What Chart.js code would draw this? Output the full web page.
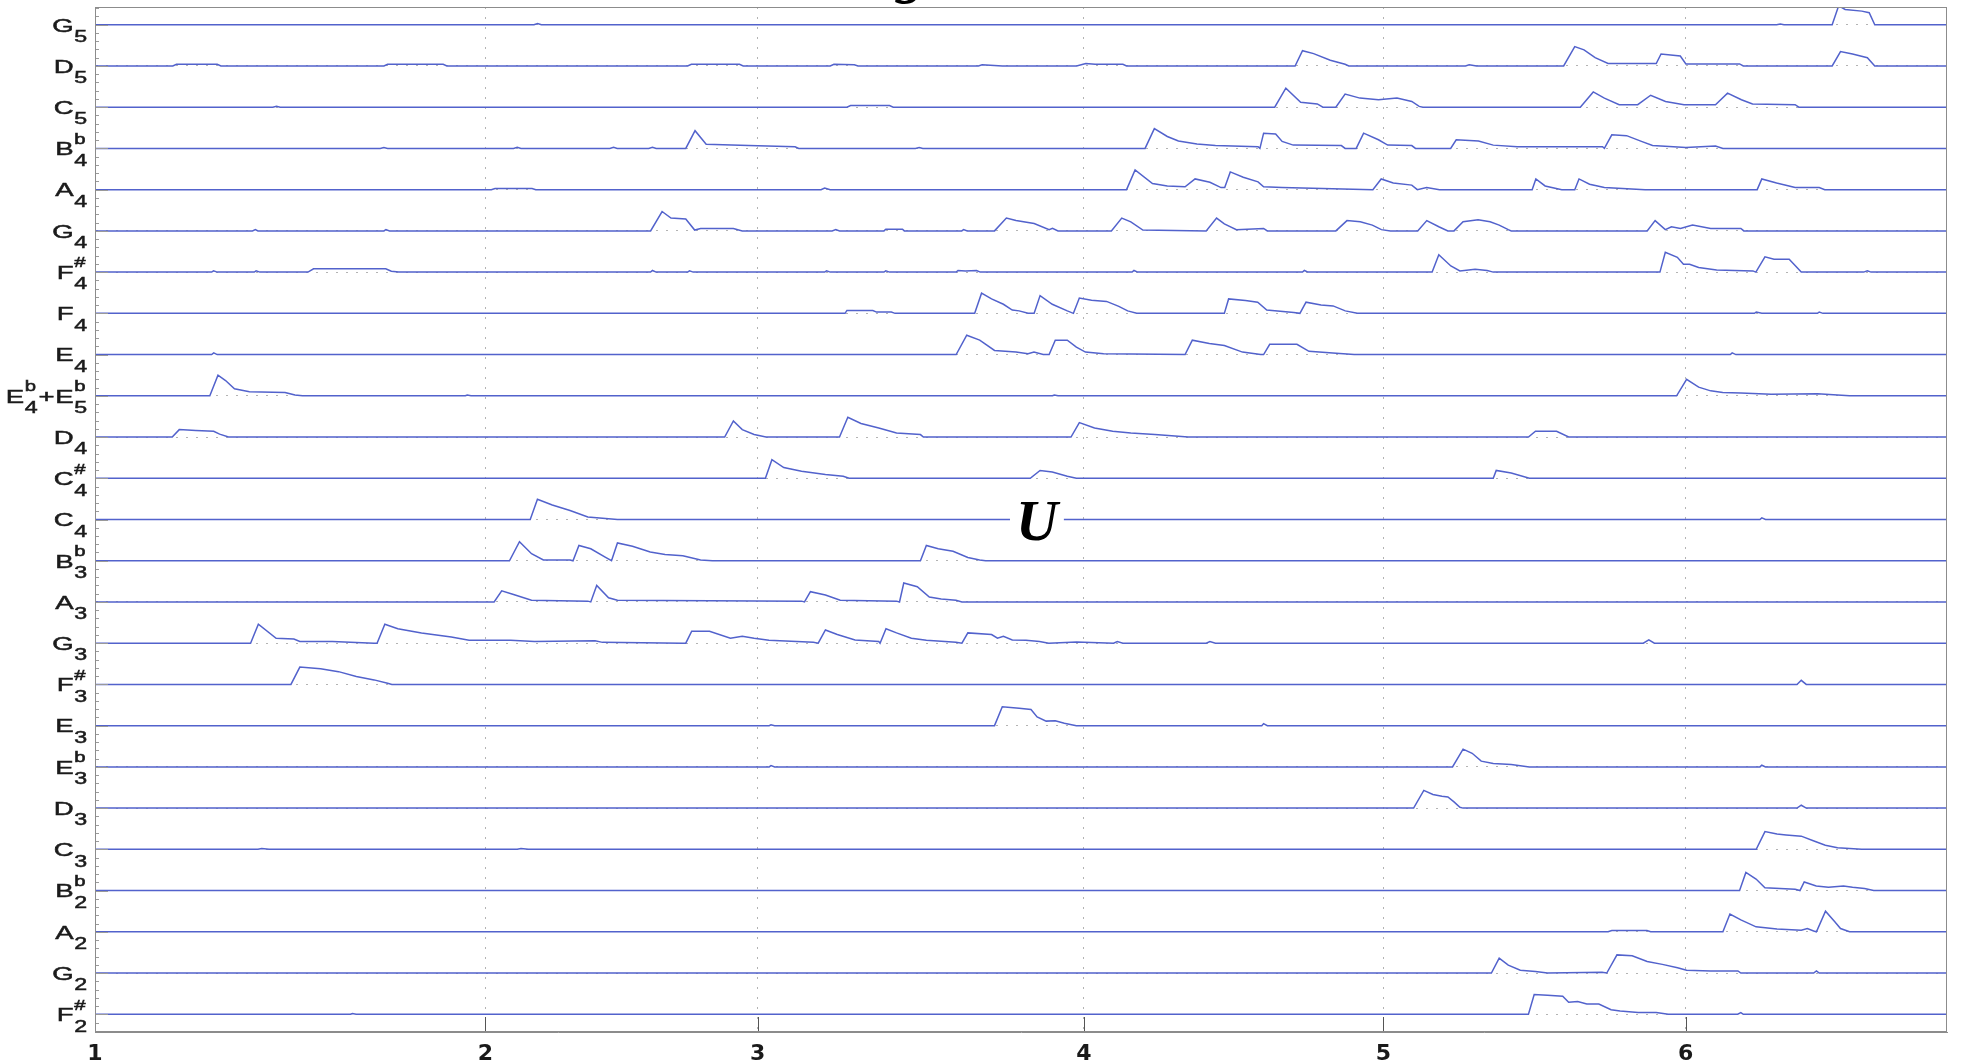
<!DOCTYPE html>
<html>
<head>
<meta charset="utf-8">
<title>Note activations</title>
<script src="https://cdn.jsdelivr.net/npm/chart.js@4.4.1/dist/chart.umd.min.js"></script>
<style>
  html, body { margin: 0; padding: 0; background: #fff; }
  #wrap { width: 1961px; height: 1062px; }
</style>
</head>
<body>
<div id="wrap"><canvas id="chart" width="1961" height="1062"></canvas></div>
<script>
// Measure numbers along the time axis (seconds at which each measure starts)
const measureStarts = [0, 2.108, 3.578, 5.34, 6.957, 8.589];
const measureLabels = ['1', '2', '3', '4', '5', '6'];

// Row labels, bottom row first. Letter_octave^accidental
const rowLabels = [
  'F_2^#', 'G_2', 'A_2', 'B_2^b', 'C_3', 'D_3', 'E_3^b', 'E_3', 'F_3^#', 'G_3',
  'A_3', 'B_3^b', 'C_4', 'C_4^#', 'D_4', 'E_4^b+E_5^b', 'E_4', 'F_4', 'F_4^#', 'G_4',
  'A_4', 'B_4^b', 'C_5', 'D_5', 'G_5'
];

// Activation of each note over time: [seconds, level]
const F2s = [[0,0],[1.38,0],[1.39,0.02],[1.41,0],[7.74,0],[7.771,0.48],[7.843,0.46],[7.925,0.44],[7.957,0.29],[8.006,0.31],[8.055,0.25],[8.12,0.25],[8.186,0.11],[8.235,0.08],[8.332,0.04],[8.43,0.04],[8.495,0],[8.87,0],[8.887,0.04],[8.9,0],[10,0]];
const G2 = [[0,0],[7.54,0],[7.582,0.36],[7.631,0.19],[7.696,0.07],[7.778,0.04],[7.843,0],[8.137,0.02],[8.163,0],[8.218,0.44],[8.3,0.42],[8.381,0.28],[8.463,0.21],[8.545,0.13],[8.594,0.07],[8.724,0.05],[8.871,0.05],[8.887,0],[9.28,0],[9.295,0.05],[9.31,0],[10,0]];
const A2 = [[0,0],[8.17,0],[8.19,0.03],[8.38,0.03],[8.4,0],[8.79,0],[8.828,0.43],[8.887,0.29],[8.969,0.12],[9.082,0.07],[9.213,0.04],[9.246,0.08],[9.28,0.02],[9.295,0],[9.344,0.5],[9.393,0.25],[9.425,0.08],[9.474,0],[10,0]];
const Bb2 = [[0,0],[8.88,0],[8.914,0.44],[8.969,0.28],[9.017,0.07],[9.18,0.03],[9.206,0],[9.229,0.21],[9.294,0.11],[9.36,0.08],[9.441,0.11],[9.49,0.08],[9.555,0.05],[9.604,0],[10,0]];
const C3 = [[0,0],[0.88,0],[0.9,0.02],[0.94,0],[2.28,0],[2.3,0.02],[2.34,0],[8.97,0],[9.017,0.43],[9.082,0.37],[9.131,0.35],[9.213,0.32],[9.278,0.21],[9.343,0.1],[9.409,0.04],[9.539,0],[10,0]];
const D3 = [[0,0],[7.12,0],[7.175,0.43],[7.224,0.33],[7.273,0.29],[7.305,0.27],[7.338,0.15],[7.37,0.02],[7.387,0],[9.19,0],[9.213,0.07],[9.24,0],[10,0]];
const Eb3 = [[0,0],[3.64,0],[3.65,0.03],[3.67,0],[7.33,0],[7.387,0.43],[7.436,0.33],[7.485,0.14],[7.55,0.08],[7.647,0.06],[7.745,0],[8.99,0],[9.0,0.04],[9.02,0],[10,0]];
const E3 = [[0,0],[3.64,0],[3.65,0.02],[3.67,0],[4.857,0],[4.899,0.46],[4.99,0.42],[5.054,0.39],[5.087,0.21],[5.136,0.11],[5.185,0.12],[5.234,0.06],[5.299,0],[6.3,0],[6.31,0.05],[6.33,0],[10,0]];
const F3s = [[0,0],[1.058,0],[1.106,0.42],[1.218,0.38],[1.315,0.31],[1.411,0.19],[1.507,0.11],[1.58,0.03],[1.603,0],[9.19,0],[9.213,0.1],[9.24,0],[10,0]];
const G3 = [[0,0],[0.84,0],[0.882,0.46],[0.978,0.12],[1.074,0.1],[1.106,0.04],[1.282,0.04],[1.507,0],[1.523,0],[1.565,0.46],[1.635,0.35],[1.763,0.25],[1.924,0.15],[2.02,0.07],[2.244,0.07],[2.373,0.04],[2.7,0.06],[2.74,0.02],[3.174,0],[3.19,0],[3.222,0.29],[3.318,0.29],[3.431,0.12],[3.495,0.17],[3.559,0.12],[3.639,0.07],[3.879,0.02],[3.905,0],[3.944,0.32],[4.008,0.21],[4.104,0.08],[4.232,0.04],[4.239,0],[4.271,0.35],[4.328,0.25],[4.408,0.12],[4.489,0.07],[4.649,0.02],[4.681,0],[4.713,0.25],[4.841,0.21],[4.873,0.12],[4.905,0.17],[4.953,0.08],[5.027,0.07],[5.1,0.04],[5.15,0],[5.3,0.03],[5.5,0],[5.52,0.04],[5.55,0],[6.0,0],[6.02,0.04],[6.05,0],[8.36,0],[8.39,0.08],[8.42,0],[10,0]];
const A3 = [[0,0],[2.155,0],[2.196,0.27],[2.26,0.18],[2.357,0.04],[2.661,0.02],[2.677,0],[2.709,0.4],[2.773,0.1],[2.821,0.04],[3.815,0.02],[3.831,0],[3.863,0.25],[3.944,0.17],[4.024,0.04],[4.328,0.02],[4.344,0],[4.367,0.46],[4.44,0.37],[4.505,0.12],[4.569,0.07],[4.649,0.04],[4.681,0],[10,0]];
const Bb3 = [[0,0],[2.238,0],[2.292,0.46],[2.357,0.17],[2.421,0.02],[2.565,0.02],[2.581,0],[2.613,0.37],[2.677,0.29],[2.757,0.08],[2.789,0],[2.821,0.43],[2.902,0.35],[2.998,0.21],[3.078,0.15],[3.174,0.12],[3.27,0.02],[3.334,0],[4.457,0],[4.489,0.37],[4.553,0.29],[4.633,0.23],[4.713,0.08],[4.777,0.02],[4.809,0],[10,0]];
const C4 = [[0,0],[2.35,0],[2.389,0.49],[2.469,0.35],[2.565,0.22],[2.661,0.06],[2.821,0],[8.99,0],[9.0,0.04],[9.02,0],[10,0]];
const Cs4 = [[0,0],[3.62,0],[3.655,0.45],[3.719,0.26],[3.815,0.17],[3.944,0.09],[4.04,0.05],[4.072,0],[5.05,0],[5.103,0.19],[5.169,0.15],[5.25,0.05],[5.299,0],[7.55,0],[7.566,0.19],[7.647,0.13],[7.745,0],[10,0]];
const D4 = [[0,0],[0.417,0],[0.455,0.18],[0.545,0.16],[0.641,0.14],[0.673,0.07],[0.721,0],[3.4,0],[3.447,0.39],[3.495,0.18],[3.559,0.06],[3.623,0],[4.02,0],[4.065,0.48],[4.136,0.33],[4.232,0.22],[4.328,0.1],[4.457,0.06],[4.473,0],[5.27,0],[5.315,0.35],[5.397,0.22],[5.495,0.14],[5.593,0.1],[5.723,0.06],[5.903,0],[7.74,0],[7.778,0.14],[7.892,0.14],[7.957,0],[10,0]];
const Eb4Eb5 = [[0,0],[0.62,0],[0.664,0.5],[0.705,0.37],[0.753,0.17],[0.834,0.1],[1.026,0.08],[1.08,0.02],[1.12,0],[2.0,0],[2.01,0.02],[2.03,0],[5.17,0],[5.18,0.02],[5.2,0],[8.54,0],[8.594,0.4],[8.659,0.21],[8.724,0.12],[8.789,0.08],[8.887,0.07],[9.05,0.04],[9.3,0.05],[9.474,0],[10,0]];
const E4 = [[0,0],[0.63,0],[0.641,0.04],[0.66,0],[4.65,0],[4.707,0.47],[4.777,0.35],[4.857,0.1],[4.973,0.06],[5.038,0.02],[5.07,0.06],[5.12,0],[5.152,0],[5.185,0.35],[5.25,0.35],[5.299,0.18],[5.348,0.06],[5.446,0.02],[5.886,0],[5.925,0.35],[6.017,0.27],[6.098,0.22],[6.196,0.06],[6.294,0],[6.31,0],[6.343,0.25],[6.49,0.25],[6.555,0.08],[6.702,0.03],[6.799,0],[8.83,0],[8.84,0.04],[8.86,0],[10,0]];
const F4 = [[0,0],[4.05,0],[4.06,0.07],[4.2,0.07],[4.22,0.03],[4.3,0.03],[4.32,0],[4.75,0],[4.787,0.49],[4.841,0.35],[4.905,0.22],[4.953,0.08],[4.99,0.06],[5.038,0],[5.071,0],[5.103,0.43],[5.169,0.22],[5.25,0.06],[5.283,0],[5.315,0.37],[5.381,0.32],[5.462,0.29],[5.528,0.17],[5.576,0.06],[5.625,0],[6.098,0],[6.121,0.35],[6.212,0.31],[6.278,0.27],[6.327,0.08],[6.473,0.02],[6.506,0],[6.539,0.27],[6.62,0.2],[6.685,0.18],[6.751,0.06],[6.816,0],[8.96,0],[8.97,0.03],[9.0,0],[9.3,0],[9.31,0.03],[9.33,0],[10,0]];
const F4s = [[0,0],[0.63,0],[0.64,0.03],[0.66,0],[0.86,0],[0.87,0.03],[0.89,0],[1.15,0],[1.18,0.08],[1.57,0.08],[1.6,0.02],[1.64,0],[3.0,0],[3.01,0.04],[3.03,0],[3.2,0],[3.21,0.03],[3.23,0],[3.94,0],[3.95,0.03],[3.97,0],[4.26,0],[4.27,0.03],[4.29,0],[4.65,0],[4.66,0.04],[4.7,0.03],[4.76,0.04],[4.78,0],[5.6,0],[5.61,0.04],[5.63,0],[6.52,0],[6.53,0.04],[6.55,0],[7.22,0],[7.256,0.42],[7.321,0.15],[7.37,0.03],[7.452,0.07],[7.517,0.04],[7.55,0],[8.45,0],[8.479,0.48],[8.544,0.36],[8.577,0.19],[8.61,0.19],[8.659,0.11],[8.756,0.05],[8.952,0.03],[8.968,0],[9.017,0.37],[9.066,0.31],[9.148,0.31],[9.213,0],[9.55,0],[9.57,0.03],[9.59,0],[10,0]];
const G4 = [[0,0],[0.85,0],[0.866,0.03],[0.88,0],[1.56,0],[1.571,0.03],[1.59,0],[3.0,0],[3.062,0.47],[3.11,0.31],[3.19,0.29],[3.238,0.02],[3.27,0.06],[3.447,0.06],[3.495,0],[3.98,0],[4.0,0.03],[4.02,0],[4.26,0],[4.27,0.04],[4.36,0.04],[4.37,0],[4.68,0],[4.69,0.03],[4.71,0],[4.857,0],[4.921,0.31],[4.973,0.25],[5.071,0.18],[5.152,0.03],[5.17,0.06],[5.2,0],[5.488,0],[5.544,0.31],[5.593,0.22],[5.658,0.02],[6.0,0],[6.056,0.31],[6.098,0.17],[6.163,0.03],[6.31,0.06],[6.33,0],[6.7,0],[6.76,0.25],[6.832,0.22],[6.897,0.14],[6.946,0.03],[6.995,0],[7.142,0],[7.191,0.25],[7.256,0.1],[7.305,0],[7.338,0],[7.387,0.22],[7.468,0.27],[7.533,0.22],[7.582,0.14],[7.631,0.03],[7.647,0],[8.381,0],[8.424,0.25],[8.479,0.03],[8.512,0.1],[8.561,0.06],[8.626,0.14],[8.724,0.06],[8.887,0.06],[8.903,0],[10,0]];
const A4 = [[0,0],[2.14,0],[2.16,0.03],[2.36,0.03],[2.38,0],[3.92,0],[3.94,0.04],[3.97,0],[5.57,0],[5.616,0.48],[5.71,0.15],[5.79,0.09],[5.886,0.07],[5.94,0.26],[6.02,0.18],[6.08,0.05],[6.1,0.05],[6.13,0.43],[6.2,0.3],[6.28,0.19],[6.31,0.07],[6.41,0.05],[6.9,0],[6.945,0.26],[7.01,0.16],[7.11,0.11],[7.14,0],[7.19,0.05],[7.26,0],[7.76,0],[7.78,0.26],[7.83,0.09],[7.92,0],[7.99,0],[8.013,0.26],[8.07,0.13],[8.15,0.05],[8.37,0],[8.975,0],[9.0,0.26],[9.08,0.16],[9.18,0.05],[9.31,0.05],[9.34,0],[10,0]];
const Bb4 = [[0,0],[1.54,0],[1.56,0.02],[1.58,0],[2.26,0],[2.28,0.03],[2.3,0],[2.78,0],[2.8,0.03],[2.82,0],[2.99,0],[3.01,0.03],[3.03,0],[3.19,0],[3.24,0.43],[3.3,0.1],[3.53,0.07],[3.78,0.04],[3.8,0],[4.43,0],[4.45,0.02],[4.47,0],[5.67,0],[5.72,0.48],[5.79,0.29],[5.85,0.18],[5.95,0.11],[6.05,0.07],[6.28,0.04],[6.29,0],[6.31,0.37],[6.375,0.35],[6.41,0.17],[6.47,0.08],[6.73,0.07],[6.75,0],[6.81,0],[6.85,0.37],[6.93,0.21],[6.98,0.08],[7.11,0.07],[7.13,0],[7.32,0],[7.35,0.21],[7.47,0.18],[7.55,0.08],[7.68,0.04],[8.14,0.04],[8.15,0],[8.19,0.33],[8.27,0.31],[8.35,0.17],[8.41,0.07],[8.59,0.02],[8.75,0.06],[8.79,0],[10,0]];
const C5 = [[0,0],[0.96,0],[0.98,0.02],[1.0,0],[4.06,0],[4.08,0.04],[4.29,0.04],[4.31,0],[6.37,0],[6.43,0.46],[6.51,0.12],[6.6,0.08],[6.63,0],[6.7,0],[6.75,0.32],[6.83,0.22],[6.93,0.18],[7.03,0.22],[7.11,0.14],[7.15,0.02],[7.17,0],[8.02,0],[8.09,0.37],[8.15,0.22],[8.23,0.06],[8.33,0.06],[8.4,0.29],[8.48,0.14],[8.58,0.06],[8.75,0.06],[8.815,0.34],[8.89,0.18],[8.95,0.08],[9.18,0.06],[9.2,0],[10,0]];
const D5 = [[0,0],[0.42,0],[0.44,0.04],[0.66,0.04],[0.68,0],[1.56,0],[1.58,0.04],[1.88,0.04],[1.9,0],[3.2,0],[3.22,0.04],[3.48,0.04],[3.5,0],[3.97,0],[3.99,0.04],[4.1,0.03],[4.12,0],[4.77,0],[4.79,0.03],[4.9,0],[5.3,0],[5.35,0.06],[5.4,0.04],[5.55,0.04],[5.57,0],[6.48,0],[6.52,0.37],[6.58,0.3],[6.67,0.14],[6.75,0.04],[6.77,0],[7.4,0],[7.42,0.03],[7.46,0],[7.93,0],[7.99,0.47],[8.04,0.39],[8.1,0.2],[8.17,0.06],[8.43,0.06],[8.456,0.29],[8.56,0.24],[8.59,0.05],[8.88,0.05],[8.9,0],[9.38,0],[9.425,0.35],[9.49,0.29],[9.57,0.2],[9.61,0],[10,0]];
const G5 = [[0,0],[2.37,0],[2.39,0.03],[2.41,0],[9.08,0],[9.1,0.02],[9.12,0],[9.38,0],[9.415,0.46],[9.45,0.37],[9.54,0.33],[9.58,0.29],[9.61,0],[10,0]];

const rows = [F2s, G2, A2, Bb2, C3, D3, Eb3, E3, F3s, G3, A3, Bb3, C4, Cs4, D4,
  Eb4Eb5, E4, F4, F4s, G4, A4, Bb4, C5, D5, G5];

const TRACE_BLUE = 'rgb(82, 98, 204)';
const LABEL_FONT = '"Liberation Sans", Arial, sans-serif';
const LABEL_STRETCH = 1.45;

// Split 'B_4^b' or 'E_4^b+E_5^b' into columns; sub and sup share a column
function noteColumns(label) {
  const cols = [];
  label.split('+').forEach((part, k) => {
    const m = part.match(/^([A-G])_(\d)(?:\^(.))?$/);
    if (k) cols.push([{ text: '+', size: 19, dy: 0 }]);
    cols.push([{ text: m[1], size: 19, dy: 0 }]);
    const stack = [{ text: m[2], size: 16, dy: 10.5 }];
    if (m[3]) stack.push({ text: m[3], size: 14, dy: -11.5 });
    cols.push(stack);
  });
  return cols;
}

const noteLabels = {
  id: 'noteLabels',
  afterDraw(chart) {
    const { ctx, chartArea, scales: { y } } = chart;
    ctx.save();
    ctx.fillStyle = '#1b1b1b';
    ctx.strokeStyle = '#1b1b1b';
    ctx.lineWidth = 0.5;
    ctx.textBaseline = 'alphabetic';
    ctx.textAlign = 'left';
    rowLabels.forEach((label, i) => {
      const base = y.getPixelForValue(i) + 6.8;
      const cols = noteColumns(label).map(col => {
        const w = Math.max(...col.map(p => { ctx.font = p.size + 'px ' + LABEL_FONT; return ctx.measureText(p.text).width; }));
        return { col, w };
      });
      const total = cols.reduce((s, c) => s + c.w + 0.5, 0) * LABEL_STRETCH;
      ctx.save();
      ctx.translate(chartArea.left - 7 - total, 0);
      ctx.scale(LABEL_STRETCH, 1);
      let cx = 0;
      cols.forEach(({ col, w }) => {
        col.forEach(p => {
          ctx.font = p.size + 'px ' + LABEL_FONT;
          ctx.fillText(p.text, cx, base + p.dy);
          ctx.strokeText(p.text, cx, base + p.dy);
        });
        cx += w + 0.5;
      });
      ctx.restore();
    });
    ctx.restore();
  }
};

// Plot box plus the short tick marks that point into the plot
const frameAndTicks = {
  id: 'frameAndTicks',
  afterDatasetsDraw(chart) {
    const { ctx, chartArea: a, scales: { x, y } } = chart;
    ctx.save();
    ctx.lineWidth = 1;
    ctx.strokeStyle = '#9a9a9a';
    ctx.beginPath();
    for (let j = Math.ceil(y.min * 5); j <= Math.floor(y.max * 5); j++) {
      const py = Math.round(y.getPixelForValue(j / 5)) + 0.5;
      const len = j % 5 === 0 ? 13 : 4;
      ctx.moveTo(a.left, py);
      ctx.lineTo(a.left + len, py);
    }
    ctx.stroke();
    ctx.strokeStyle = '#555';
    ctx.beginPath();
    x.ticks.forEach(t => {
      const px = Math.round(x.getPixelForValue(t.value)) + 0.5;
      ctx.moveTo(px, a.bottom);
      ctx.lineTo(px, a.bottom - 15);
    });
    ctx.stroke();
    ctx.strokeStyle = '#8c8c8c';
    ctx.strokeRect(Math.round(a.left) + 0.5, Math.round(a.top) + 0.5,
      Math.round(a.width) - 1, Math.round(a.height) - 1);
    ctx.restore();
  }
};

// Free-standing symbols placed in data coordinates
const textMarks = {
  id: 'textMarks',
  afterDatasetsDraw(chart, args, opts) {
    const { ctx, scales: { x, y } } = chart;
    ctx.save();
    ctx.textAlign = 'center';
    ctx.textBaseline = 'alphabetic';
    opts.items.forEach(m => {
      ctx.font = m.font;
      const px = x.getPixelForValue(m.x);
      const py = y.getPixelForValue(m.y);
      if (m.knockout) {
        const w = ctx.measureText(m.text).width + 12;
        ctx.fillStyle = '#fff';
        ctx.fillRect(px - w / 2, py - 22, w, 44);
      }
      ctx.fillStyle = '#000';
      ctx.fillText(m.text, px, py + m.dy);
    });
    ctx.restore();
  }
};

new Chart(document.getElementById('chart'), {
  type: 'line',
  data: {
    datasets: rows.map((pts, i) => ({
      label: rowLabels[i],
      data: pts.map(([t, v]) => ({ x: t, y: i + v })),
      borderColor: TRACE_BLUE,
      borderWidth: 1.5,
      pointRadius: 0,
      tension: 0,
      fill: false
    }))
  },
  options: {
    responsive: false,
    devicePixelRatio: 1,
    animation: false,
    layout: { padding: { left: 95, right: 14, top: 7, bottom: -14 } },
    scales: {
      x: {
        type: 'linear', min: 0, max: 10,
        afterBuildTicks: s => { s.ticks = measureStarts.map(v => ({ value: v })); },
        ticks: {
          autoSkip: false, maxRotation: 0, padding: 11, color: '#1a1a1a',
          font: { family: '"DejaVu Sans", sans-serif', weight: 'bold', size: 22, lineHeight: 1 },
          callback: (v, i) => measureLabels[i]
        },
        grid: { color: '#b3b3b3', lineWidth: 1, drawTicks: false },
        border: { display: true, color: '#8c8c8c', dash: [2, 8] }
      },
      y: {
        type: 'linear', min: -0.43, max: 24.43,
        afterBuildTicks: s => { s.ticks = rowLabels.map((_, i) => ({ value: i })); },
        ticks: { display: false },
        grid: { color: '#b3b3b3', lineWidth: 1, drawTicks: false },
        border: { display: true, color: '#8c8c8c', dash: [2, 8] }
      }
    },
    plugins: {
      legend: { display: false },
      tooltip: { enabled: false },
      textMarks: {
        items: [
          { text: 'U', x: 5.086, y: 12, dy: 20, knockout: true, font: 'bold italic 58px "Liberation Serif", serif' },
          { text: 'g', x: 4.405, y: 24.43, dy: -15.5, knockout: false, font: 'bold italic 58px "Liberation Serif", serif' }
        ]
      }
    }
  },
  plugins: [frameAndTicks, textMarks, noteLabels]
});
</script>
</body>
</html>
